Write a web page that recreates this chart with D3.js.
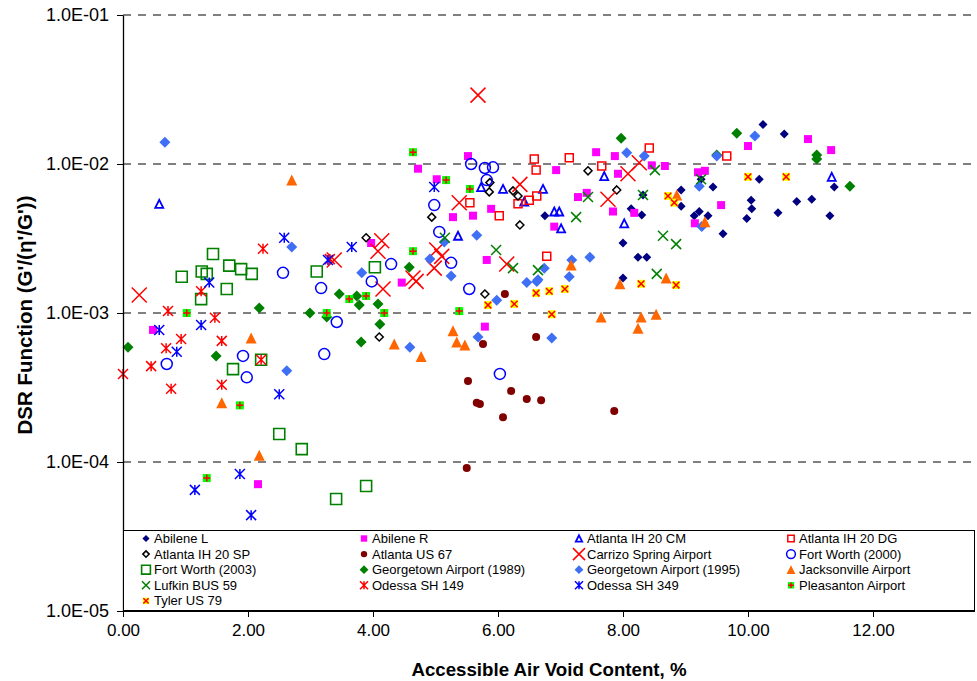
<!DOCTYPE html>
<html>
<head>
<meta charset="utf-8">
<script src="https://cdn.jsdelivr.net/npm/d3@7"></script>
<style>
  body { margin: 0; background: #fff; }
  svg { display: block; font-family: "Liberation Sans", Arial, sans-serif; }
</style>
</head>
<body>
<svg id="chart" width="977" height="681"></svg>
<script>
// ---- data: [accessible air void content %, DSR function] ----
const abileneL = [[10.24,1.84e-2],[10.58,1.59e-2],[10.18,7.9e-3],[11.38,7.0e-3],[10.05,5.7e-3],[10.06,5.0e-3],[10.78,5.6e-3],[11.02,5.8e-3],[10.48,4.7e-3],[9.98,4.3e-3],[11.31,4.5e-3],[8.93,6.7e-3],[9.44,7.0e-3],[8.93,5.2e-3],[6.75,4.5e-3],[8.13,5.0e-3],[8.30,4.55e-3],[8.32,6.2e-3],[9.14,4.5e-3],[9.22,4.8e-3],[9.36,4.5e-3],[9.60,3.4e-3],[8.0,2.95e-3],[8.24,2.37e-3],[8.38,2.37e-3],[8.0,1.72e-3],[9.25,7.9e-3]];
const abileneR = [[5.52,1.13e-2],[4.72,9.3e-3],[5.02,7.9e-3],[5.28,4.4e-3],[5.60,4.5e-3],[5.89,5.0e-3],[3.97,2.95e-3],[7.57,1.2e-2],[7.87,1.13e-2],[6.93,9.1e-3],[7.92,8.6e-3],[8.46,9.8e-3],[8.67,9.7e-3],[9.20,8.8e-3],[9.31,9.0e-3],[10.0,1.32e-2],[7.42,6.4e-3],[7.28,6.0e-3],[7.84,4.8e-3],[8.18,4.7e-3],[9.57,5.3e-3],[9.15,4.0e-3],[6.90,3.8e-3],[10.96,1.47e-2],[11.33,1.24e-2],[5.82,2.27e-3],[4.46,1.6e-3],[5.79,8.1e-4],[0.48,7.7e-4],[2.16,7.1e-5]];
const atlantaCM = [[0.58,5.4e-3],[5.73,7.0e-3],[6.08,6.8e-3],[5.36,3.3e-3],[6.42,5.6e-3],[7.70,8.3e-3],[6.72,6.8e-3],[6.90,4.8e-3],[6.98,4.8e-3],[7.01,3.7e-3],[8.02,4.0e-3],[11.34,8.2e-3]];
const atlantaDG = [[6.58,1.08e-2],[6.61,9.1e-3],[5.55,5.5e-3],[6.32,5.4e-3],[6.50,5.7e-3],[6.62,6.1e-3],[6.02,4.5e-3],[7.14,1.1e-2],[8.42,1.28e-2],[7.66,9.7e-3],[9.66,1.13e-2],[6.78,2.4e-3]];
const atlantaSP = [[5.87,7.5e-3],[5.86,6.5e-3],[6.24,6.6e-3],[6.32,6.1e-3],[4.94,4.4e-3],[6.35,3.9e-3],[3.89,3.2e-3],[7.44,9.0e-3],[7.90,6.7e-3],[5.79,1.34e-3],[4.10,6.9e-4]];
const atlantaUS67 = [[6.11,1.34e-3],[5.76,6.2e-4],[6.61,6.9e-4],[5.52,3.5e-4],[5.66,2.5e-4],[5.71,2.45e-4],[6.21,3.0e-4],[6.46,2.65e-4],[6.08,2.0e-4],[5.50,9.1e-5],[6.69,2.6e-4],[7.86,2.2e-4]];
const carrizo = [[5.68,2.9e-2],[6.35,7.3e-3],[5.38,5.5e-3],[4.14,3.05e-3],[8.26,1.02e-2],[8.08,8.6e-3],[7.76,5.8e-3],[0.26,1.32e-3],[3.38,2.27e-3],[4.08,2.6e-3],[4.64,1.72e-3],[4.69,1.63e-3],[4.16,1.45e-3],[4.98,2.0e-3],[5.02,2.65e-3],[5.10,2.4e-3],[6.14,2.13e-3]];
const fortWorth2000 = [[5.57,1.0e-2],[5.79,9.4e-3],[5.92,9.5e-3],[5.82,7.8e-3],[4.98,5.3e-3],[5.06,3.5e-3],[2.56,1.86e-3],[3.17,1.47e-3],[1.92,5.15e-4],[1.98,3.7e-4],[0.70,4.55e-4],[3.22,5.3e-4],[4.29,2.13e-3],[5.25,2.17e-3],[3.98,1.63e-3],[5.54,1.45e-3],[3.42,8.7e-4],[6.03,3.9e-4]];
const fortWorth2003 = [[1.44,2.49e-3],[0.94,1.75e-3],[1.26,1.9e-3],[1.34,1.83e-3],[1.70,2.08e-3],[1.89,1.97e-3],[2.06,1.83e-3],[1.66,1.45e-3],[1.25,1.24e-3],[3.10,1.9e-3],[1.76,4.2e-4],[4.03,2.03e-3],[2.50,1.54e-4],[2.86,1.22e-4],[3.89,6.9e-5],[3.41,5.65e-5],[2.21,4.85e-4]];
const georgetown1989 = [[7.97,1.49e-2],[9.82,1.61e-2],[9.50,1.15e-2],[11.10,1.15e-2],[11.10,1.08e-2],[11.63,7.1e-3],[0.08,5.9e-4],[2.18,1.08e-3],[2.99,1.0e-3],[1.49,5.15e-4],[3.26,9.4e-4],[4.58,2.03e-3],[3.46,1.34e-3],[3.74,1.3e-3],[3.78,1.13e-3],[4.08,1.15e-3],[4.11,8.4e-4],[3.81,6.4e-4]];
const georgetown1995 = [[0.67,1.4e-2],[2.70,2.77e-3],[5.66,3.33e-3],[5.14,3.0e-3],[8.06,1.19e-2],[8.34,1.13e-2],[9.50,1.13e-2],[9.22,7.1e-3],[9.26,3.8e-3],[10.11,1.54e-2],[2.62,4.1e-4],[4.91,2.3e-3],[3.82,1.86e-3],[5.25,1.77e-3],[6.46,1.6e-3],[6.62,1.63e-3],[5.98,1.22e-3],[5.68,6.9e-4],[4.59,5.9e-4],[6.74,2.0e-3],[6.64,1.67e-3],[7.18,2.27e-3],[7.47,2.37e-3],[7.14,1.75e-3],[6.86,6.8e-4]];
const jacksonville = [[2.70,7.8e-3],[2.05,6.8e-4],[1.58,2.5e-4],[2.18,1.11e-4],[5.28,7.6e-4],[5.34,6.4e-4],[5.47,6.1e-4],[4.34,6.2e-4],[4.77,5.1e-4],[7.17,2.1e-3],[7.95,1.57e-3],[8.69,1.72e-3],[7.65,9.4e-4],[8.29,9.4e-4],[8.53,9.8e-4],[8.24,7.9e-4],[8.86,6.2e-3],[9.31,4.1e-3]];
const lufkin = [[5.15,3.2e-3],[5.97,2.65e-3],[8.51,9.1e-3],[7.44,6.0e-3],[7.25,4.4e-3],[8.32,6.2e-3],[9.25,7.9e-3],[8.64,3.3e-3],[8.85,2.9e-3],[6.24,2.0e-3],[6.64,1.94e-3],[8.54,1.83e-3]];
const odessa149 = [[2.24,2.7e-3],[0.72,1.03e-3],[1.47,9.3e-4],[1.25,1.4e-3],[0.93,6.7e-4],[0.69,5.8e-4],[1.58,6.5e-4],[0.45,4.4e-4],[0.0,3.9e-4],[0.77,3.1e-4],[1.58,3.3e-4],[2.21,4.85e-4],[3.31,2.3e-3]];
const odessa349 = [[2.58,3.2e-3],[4.98,7.0e-3],[3.66,2.77e-3],[1.38,1.6e-3],[0.58,7.7e-4],[1.25,8.3e-4],[0.86,5.5e-4],[2.50,2.85e-4],[3.28,2.27e-3],[1.15,6.5e-5],[1.87,8.3e-5],[2.05,4.4e-5]];
const pleasanton = [[4.64,1.2e-2],[5.17,7.8e-3],[5.55,6.8e-3],[1.02,1.0e-3],[1.87,2.4e-4],[3.26,1.0e-3],[4.64,2.6e-3],[3.62,1.24e-3],[3.89,1.3e-3],[4.18,1.0e-3],[5.38,1.03e-3],[1.34,7.8e-5]];
const tyler = [[5.84,1.13e-3],[6.26,1.15e-3],[6.61,1.36e-3],[6.82,1.4e-3],[7.07,1.45e-3],[6.86,9.8e-4],[8.29,1.57e-3],[8.85,1.54e-3],[8.72,6.1e-3],[8.82,5.5e-3],[10.0,8.2e-3],[10.61,8.2e-3]];

const seriesNames = ["Abilene L","Abilene R","Atlanta IH 20 CM","Atlanta IH 20 DG","Atlanta IH 20 SP","Atlanta US 67","Carrizo Spring Airport","Fort Worth (2000)","Fort Worth (2003)","Georgetown Airport (1989)","Georgetown Airport (1995)","Jacksonville Airport","Lufkin BUS 59","Odessa SH 149","Odessa SH 349","Pleasanton Airport","Tyler US 79"];
const seriesValues = [abileneL,abileneR,atlantaCM,atlantaDG,atlantaSP,atlantaUS67,carrizo,fortWorth2000,fortWorth2003,georgetown1989,georgetown1995,jacksonville,lufkin,odessa149,odessa349,pleasanton,tyler];
const xTickValues = [0,2,4,6,8,10,12];
const yTickValues = [1e-1,1e-2,1e-3,1e-4,1e-5];
const xTitle = "Accessible Air Void Content, %";
const yTitle = "DSR Function (G'/(\u03B7'/G'))";

// ---- marker styles, one per series (same order as the names) ----
const markerStyles = [
  [{shape:"diamond", r:4.5, fill:"#000080"}],
  [{shape:"square", r:4, fill:"#FF00FF"}],
  [{shape:"triangle", r:4, stroke:"#0000FF", width:1.8}],
  [{shape:"square", r:4, stroke:"#FF0000", width:1.5}],
  [{shape:"diamond", r:4, stroke:"#000000", width:1.5}],
  [{shape:"circle", r:4, fill:"#800000"}],
  [{shape:"x", r:7.5, stroke:"#FF0000", width:1.5}],
  [{shape:"circle", r:5.5, stroke:"#0000FF", width:1.5}],
  [{shape:"square", r:5.5, stroke:"#008000", width:1.6}],
  [{shape:"diamond", r:5.5, fill:"#008000"}],
  [{shape:"diamond", r:5.5, fill:"#3F6FF5"}],
  [{shape:"triangle", r:5.5, fill:"#FF6600"}],
  [{shape:"x", r:5, stroke:"#008000", width:1.5}],
  [{shape:"star", r:5, stroke:"#FF0000", width:1.5}],
  [{shape:"star", r:5, stroke:"#0000FF", width:1.5}],
  [{shape:"square", r:4, fill:"#00FF00"}, {shape:"plus", r:3.5, stroke:"#FF0000", width:1.5}],
  [{shape:"square", r:4, fill:"#FFFF00"}, {shape:"x", r:3.3, stroke:"#FF0000", width:1.5}]
];

function shapePath(shape, s) {
  switch (shape) {
    case "diamond": return `M0,${-s}L${s},0L0,${s}L${-s},0Z`;
    case "square": return `M${-s},${-s}H${s}V${s}H${-s}Z`;
    case "triangle": return `M0,${-s}L${s},${s}L${-s},${s}Z`;
    case "circle": return `M${s},0A${s},${s} 0 1,1 ${-s},0A${s},${s} 0 1,1 ${s},0Z`;
    case "x": return `M${-s},${-s}L${s},${s}M${-s},${s}L${s},${-s}`;
    case "plus": return `M${-s},0H${s}M0,${-s}V${s}`;
    case "star": return `M${-s},${-s}L${s},${s}M${-s},${s}L${s},${-s}M0,${-s}V${s}`;
  }
}

function drawMarker(g, style, scale) {
  style.forEach(layer => {
    g.append("path")
      .attr("d", shapePath(layer.shape, layer.r * scale))
      .attr("fill", layer.fill || "none")
      .attr("stroke", layer.stroke || "none")
      .attr("stroke-width", layer.width || 0);
  });
}

// ---- layout ----
const svg = d3.select("#chart");
const plotLeft = 123, plotTop = 15, plotH = 596, plotRight = 975;
const x = d3.scaleLinear().domain([0, 14]).range([plotLeft, plotLeft + 875]);
const y = d3.scaleLog().domain([1e-5, 1e-1]).range([plotTop + plotH, plotTop]);

// gridlines
svg.append("g").selectAll("line")
  .data(yTickValues.filter(v => v > 1e-5))
  .join("line")
  .attr("x1", plotLeft).attr("x2", plotRight)
  .attr("y1", d => y(d)).attr("y2", d => y(d))
  .attr("stroke", "#000").attr("stroke-width", 1)
  .attr("stroke-dasharray", "8,7");

// points
seriesValues.forEach((pts, i) => {
  const g = svg.append("g");
  pts.forEach(p => {
    const m = g.append("g").attr("transform", `translate(${x(p[0])},${y(p[1])})`);
    drawMarker(m, markerStyles[i], 1);
  });
});

// y axis
const yAxis = d3.axisLeft(y).tickValues(yTickValues)
  .tickFormat(d => d.toExponential(1).replace("e", "E").replace(/E-(\d)$/, "E-0$1"))
  .tickSize(6).tickSizeOuter(0);
const gy = svg.append("g").attr("transform", `translate(${plotLeft},0)`).call(yAxis);
gy.select(".domain").attr("stroke", "#000").attr("stroke-width", 1.3);
gy.selectAll(".tick line").attr("stroke", "#000");
gy.selectAll(".tick text").attr("font-size", 18).attr("fill", "#000")
  .attr("font-family", "Liberation Sans, Arial, sans-serif").attr("x", -14);

// x axis
const xAxis = d3.axisBottom(x).tickValues(xTickValues)
  .tickFormat(d3.format(".2f")).tickSize(6).tickSizeOuter(0);
const gx = svg.append("g").attr("transform", `translate(0,${plotTop + plotH})`).call(xAxis);
gx.select(".domain").attr("d", `M${plotLeft},0.5H${plotRight}`).attr("stroke", "#000");
gx.selectAll(".tick line").attr("stroke", "#000");
gx.selectAll(".tick text").attr("font-size", 17).attr("fill", "#000")
  .attr("font-family", "Liberation Sans, Arial, sans-serif").attr("y", 13);

// axis titles
svg.append("text")
  .attr("x", 549).attr("y", 676)
  .attr("text-anchor", "middle").attr("font-weight", "bold").attr("font-size", 18.7)
  .text(xTitle);
svg.append("text")
  .attr("transform", "translate(32,315) rotate(-90)")
  .attr("text-anchor", "middle").attr("font-weight", "bold").attr("font-size", 20.5)
  .text(yTitle);

// legend
const lg = svg.append("g");
lg.append("rect")
  .attr("x", plotLeft + 0.5).attr("y", 530.5)
  .attr("width", plotRight - plotLeft - 1).attr("height", 80)
  .attr("fill", "#fff").attr("stroke", "#000").attr("stroke-width", 1);
const colX = [146, 364, 579, 791];
seriesNames.forEach((name, i) => {
  const cx = colX[i % 4], cy = 538.5 + Math.floor(i / 4) * 15.6;
  const m = lg.append("g").attr("transform", `translate(${cx},${cy})`);
  drawMarker(m, markerStyles[i], 0.8);
  lg.append("text").attr("x", cx + 8).attr("y", cy + 4.5)
    .attr("font-size", 13).attr("fill", "#000").text(name);
});
</script>
</body>
</html>
